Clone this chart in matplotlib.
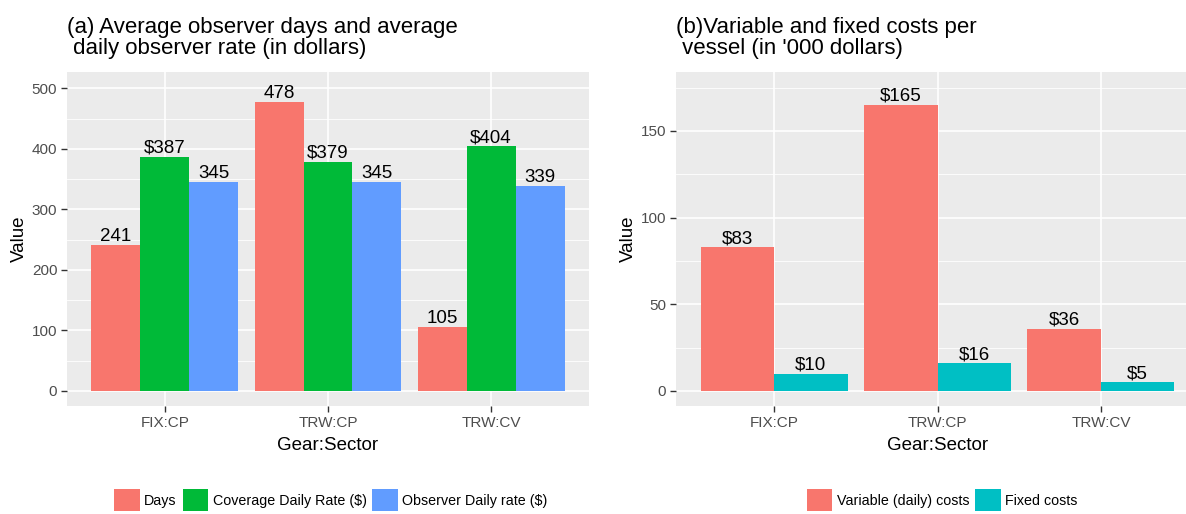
import numpy as np
import matplotlib
matplotlib.use("Agg")
import matplotlib.pyplot as plt
from matplotlib.ticker import MultipleLocator

plt.rcParams['font.family'] = ['Liberation Sans', 'DejaVu Sans']

# data
sectors = ['FIX:CP', 'TRW:CP', 'TRW:CV']

days = [241, 478, 105]
coverage_rate = [387, 379, 404]
observer_rate = [345, 345, 339]

variable_costs = [83, 165, 36]
fixed_costs = [10, 16, 5]

left_series = [("Days", days, "#F8766D", ""),
               ("Coverage Daily Rate ($)", coverage_rate, "#00BA38", "$"),
               ("Observer Daily rate ($)", observer_rate, "#619CFF", "")]
right_series = [("Variable (daily) costs", variable_costs, "#F8766D", "$"),
                ("Fixed costs", fixed_costs, "#00BFC4", "$")]

W, H = 1186, 514
fig = plt.figure(figsize=(W / 100, H / 100), dpi=100)


def px_axes(x0, x1, y0, y1):
    return fig.add_axes([x0 / W, 1 - y1 / H, (x1 - x0) / W, (y1 - y0) / H])


def gg_style(ax, ylim, major, minor):
    ax.set_facecolor("#EBEBEB")
    for s in ax.spines.values():
        s.set_visible(False)
    ax.set_ylim(*ylim)
    ax.set_xlim(-0.6, len(sectors) - 0.4)
    ax.yaxis.set_major_locator(MultipleLocator(major))
    ax.yaxis.set_minor_locator(MultipleLocator(minor))
    ax.grid(which='major', color='white', linewidth=1.2)
    ax.grid(which='minor', axis='y', color='white', linewidth=0.6)
    ax.set_axisbelow(True)
    ax.tick_params(which='major', length=4, width=1, color='#333333',
                   labelcolor='#4D4D4D', labelsize=11, pad=3)
    ax.tick_params(which='minor', length=0)
    ax.set_xticks(range(len(sectors)))
    ax.set_xticklabels(sectors)
    ax.set_ylabel("Value", fontsize=13.5, labelpad=3)
    ax.set_xlabel("Gear:Sector", fontsize=13.5, labelpad=5)


def draw(ax, series):
    n = len(series)
    w = 0.9 / n
    x = np.arange(len(sectors))
    for i, (name, vals, color, prefix) in enumerate(series):
        pos = x - 0.45 + w * (i + 0.5)
        ax.bar(pos, vals, width=w, color=color, label=name)
        for p, v in zip(pos, vals):
            ax.text(p, v, f"{prefix}{v}", ha='center', va='bottom',
                    fontsize=13.5, color='black')


ax1 = px_axes(67, 589, 72, 406)
gg_style(ax1, (-25, 527), 100, 50)
draw(ax1, left_series)
ax1.text(0, 1 + 13 / 334, "(a) Average observer days and average\n daily observer rate (in dollars)",
         transform=ax1.transAxes, ha='left', va='bottom', fontsize=16,
         linespacing=1.0)

ax2 = px_axes(676, 1199, 72, 406)
gg_style(ax2, (-8.7, 184), 50, 25)
draw(ax2, right_series)
ax2.text(0, 1 + 13 / 334, "(b)Variable and fixed costs per\n vessel (in '000 dollars)",
         transform=ax2.transAxes, ha='left', va='bottom', fontsize=16,
         linespacing=1.0)

for ax, cx in [(ax1, 331), (ax2, 942)]:
    h, l = ax.get_legend_handles_labels()
    fig.legend(h, l, loc='center', bbox_to_anchor=(cx / W, 1 - 500 / H),
               ncol=len(l), frameon=False, fontsize=10.3,
               handlelength=1.8, handleheight=2.0, handletextpad=0.3,
               columnspacing=0.4)

fig.savefig("out.png", dpi=100)
